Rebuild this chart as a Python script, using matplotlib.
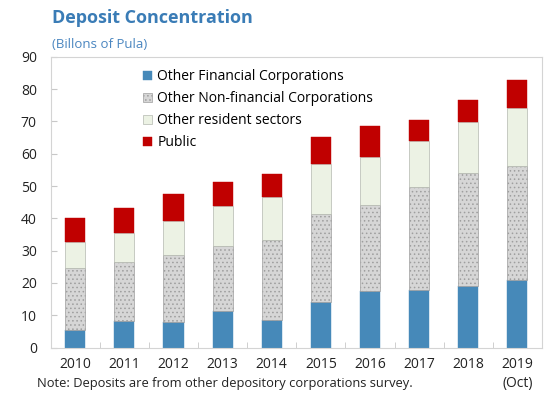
import matplotlib
matplotlib.use("Agg")
import matplotlib.pyplot as plt
import numpy as np

years = ["2010", "2011", "2012", "2013", "2014", "2015", "2016", "2017", "2018", "2019\n(Oct)"]
other_financial = [5.4, 8.2, 7.8, 11.3, 8.6, 14.1, 17.5, 17.7, 19.2, 20.9]
other_nonfinancial = [19.1, 18.2, 21.0, 20.1, 24.8, 27.2, 26.6, 31.9, 34.9, 35.3]
other_resident = [8.2, 9.2, 10.3, 12.4, 13.2, 15.5, 15.0, 14.3, 15.6, 17.8]
public = [7.5, 7.5, 8.5, 7.3, 7.0, 8.3, 9.5, 6.5, 6.9, 8.9]
series_labels = ["Other Financial Corporations", "Other Non-financial Corporations",
                 "Other resident sectors", "Public"]

plt.rcParams['font.family'] = ['Open Sans', 'DejaVu Sans']
plt.rcParams['hatch.linewidth'] = 0.6

fig = plt.figure(figsize=(5.47, 4.0), dpi=100)
ax = fig.add_axes([0.0927, 0.131, 0.898, 0.727])

x = np.arange(len(years))
w = 0.41
b1 = ax.bar(x, other_financial, w, color="#4689b9", edgecolor="#4689b9", linewidth=0.3,
            label=series_labels[0])
bottom = np.array(other_financial)
b2 = ax.bar(x, other_nonfinancial, w, bottom=bottom, color="#d6d6d6", edgecolor="#9e9e9e",
            hatch="....", linewidth=0.5, label=series_labels[1])
bottom = bottom + np.array(other_nonfinancial)
b3 = ax.bar(x, other_resident, w, bottom=bottom, color="#ecf2e4", edgecolor="#b4b8b0",
            linewidth=0.5, label=series_labels[2])
bottom = bottom + np.array(other_resident)
b4 = ax.bar(x, public, w, bottom=bottom, color="#c00000", edgecolor="#c00000", linewidth=0.3,
            label=series_labels[3])

ax.set_xlim(-0.5, 9.5)
ax.set_ylim(0, 90)
ax.set_yticks(np.arange(0, 91, 10))
ax.set_xticks(x)
ax.set_xticklabels(years, fontsize=10, color="#222222", linespacing=1.3)
ax.tick_params(axis='x', length=0, pad=7)
ax.set_xticks(np.arange(0.5, 9.5, 1), minor=True)
ax.tick_params(axis='x', which='minor', direction='in', length=4, color="#c8c8c8")
ax.tick_params(axis='y', direction='in', length=4, color="#c8c8c8", labelsize=10,
               labelcolor="#222222", pad=10)
for s in ax.spines.values():
    s.set_color("#d4d4d4")
    s.set_linewidth(0.8)

leg = ax.legend(handles=[b1, b2, b3, b4], loc='upper left', bbox_to_anchor=(0.17, 0.985),
                frameon=False, fontsize=10, handlelength=0.7, handleheight=0.7,
                handletextpad=0.35, labelspacing=0.5, borderaxespad=0.2)

fig.text(0.095, 0.955, "Deposit Concentration", fontsize=13, fontweight='bold',
         color="#3a7cb6", va='center', ha='left')
fig.text(0.095, 0.888, "(Billons of Pula)", fontsize=9.5, color="#4a86c0",
         va='center', ha='left')
fig.text(0.068, 0.042, "Note: Deposits are from other depository corporations survey.",
         fontsize=9.3, color="#222222", va='center', ha='left')

fig.savefig("out.png", dpi=100)
